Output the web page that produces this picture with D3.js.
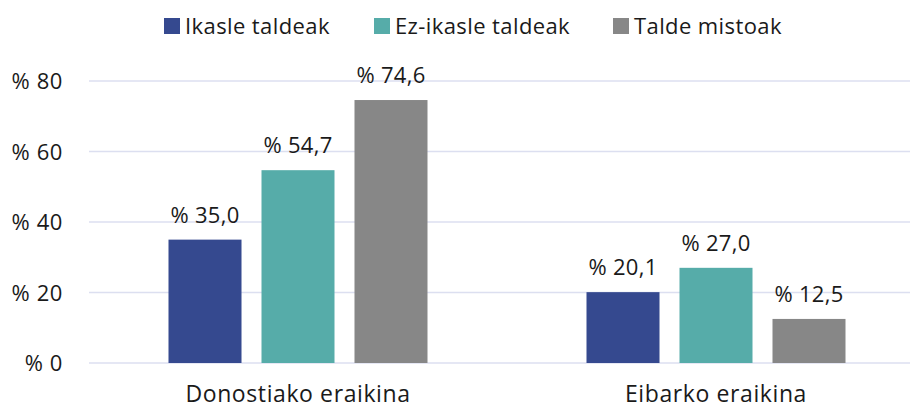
<!DOCTYPE html>
<meta charset="utf-8">
<style>
body { margin: 0; background: #fff; }
text { font-family: "Open Sans", "Noto Sans", sans-serif; fill: #1a1a1a; }
.grid line { stroke: #dcdff0; stroke-width: 1.5; }
.tick text { font-size: 22px; letter-spacing: 0.6px; }
.label { font-size: 22px; text-anchor: middle; letter-spacing: 0.3px; }
.cat { font-size: 23px; text-anchor: middle; letter-spacing: 0.6px; }
.legend text { font-size: 22px; letter-spacing: 0.4px; }
</style>
<body>
<div id="chart"></div>
<script src="https://d3js.org/d3.v7.min.js"></script>
<script>
// data
var categories = ["Donostiako eraikina", "Eibarko eraikina"];
var seriesNames = ["Ikasle taldeak", "Ez-ikasle taldeak", "Talde mistoak"];
var seriesColors = ["#35498f", "#56aca9", "#878787"];
var ikasle = [35.0, 20.1];
var ezIkasle = [54.7, 27.0];
var mistoak = [74.6, 12.5];
var yTicks = [0, 20, 40, 60, 80];

var values = [ikasle, ezIkasle, mistoak];

var W = 910, H = 408;

var svg = d3.select("#chart").append("svg")
    .attr("width", W)
    .attr("height", H);

var x0 = d3.scaleBand()
    .domain(categories)
    .range([89, 925]);

var x1 = d3.scaleBand()
    .domain(seriesNames)
    .range([79.5, 418 - 79.5])
    .paddingInner(0.215);

var y = d3.scaleLinear()
    .domain([0, 80])
    .range([363, 81]);

// gridlines
svg.append("g").attr("class", "grid")
  .selectAll("line")
  .data(yTicks)
  .enter().append("line")
    .attr("x1", 89)
    .attr("x2", W)
    .attr("y1", function(d) { return y(d); })
    .attr("y2", function(d) { return y(d); });

// y axis labels
var yAxis = svg.append("g")
    .attr("transform", "translate(63,0)")
    .call(d3.axisLeft(y).tickValues(yTicks).tickSize(0).tickPadding(0)
      .tickFormat(function(d) { return "% " + d; }));
yAxis.select(".domain").remove();
yAxis.selectAll("text").attr("dy", "0.35em");

// bars
var group = svg.selectAll(".group")
    .data(categories)
    .enter().append("g")
    .attr("class", "group")
    .attr("transform", function(d) { return "translate(" + x0(d) + ",0)"; });

seriesNames.forEach(function(s, si) {
  group.append("rect")
      .attr("x", x1(s))
      .attr("y", function(d, i) { return y(values[si][i]); })
      .attr("width", x1.bandwidth())
      .attr("height", function(d, i) { return y(0) - y(values[si][i]); })
      .attr("fill", seriesColors[si]);

  group.append("text")
      .attr("class", "label")
      .attr("x", x1(s) + x1.bandwidth() / 2)
      .attr("y", function(d, i) { return y(values[si][i]) - 17; })
      .text(function(d, i) { return "% " + values[si][i].toFixed(1).replace(".", ","); });
});

// x axis labels
group.append("text")
    .attr("class", "cat")
    .attr("x", x0.bandwidth() / 2)
    .attr("y", 402)
    .text(function(d) { return d; });

// legend
var legendX = [164, 374, 613];
var legend = svg.append("g").attr("class", "legend")
  .selectAll("g")
  .data(seriesNames)
  .enter().append("g")
    .attr("transform", function(d, i) { return "translate(" + legendX[i] + ",18)"; });

legend.append("rect")
    .attr("width", 16)
    .attr("height", 16)
    .attr("fill", function(d, i) { return seriesColors[i]; });

legend.append("text")
    .attr("x", 21)
    .attr("y", 16)
    .text(function(d) { return d; });
</script>
</body>
